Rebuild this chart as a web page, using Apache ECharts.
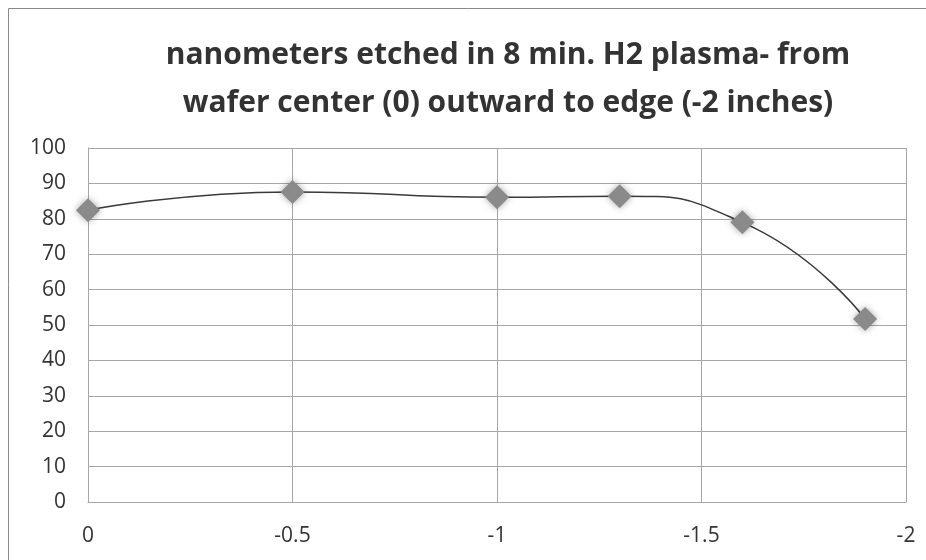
<!DOCTYPE html>
<html><head><meta charset="utf-8">
<script src="https://cdn.jsdelivr.net/npm/echarts@6/dist/echarts.min.js"></script>
<style>html,body{margin:0;padding:0;background:#fff}#c{width:926px;height:560px}</style>
</head><body><div id="c"></div>
<script>
const titleLines = ['nanometers etched in 8 min. H2 plasma- from', 'wafer center (0) outward to edge (-2 inches)'];
const positions = [0, -0.5, -1, -1.3, -1.6, -1.9];
const etched = [82.4, 87.6, 86.1, 86.4, 79.0, 51.7];
const yTicks = {min: 0, max: 100, interval: 10};
const xTicks = {min: -2, max: 0, interval: 0.5};

const chart = echarts.init(document.getElementById('c'));
const font = '"Open Sans", Calibri, sans-serif';
chart.setOption({
  animation: false,
  backgroundColor: '#fff',
  title: {
    text: titleLines.join('\n'),
    left: 503, top: 26, textAlign: 'center',
    textStyle: {fontFamily: font, fontWeight: 'bold', fontSize: 30, color: '#333333', lineHeight: 48}
  },
  graphic: [{type: 'rect', shape: {x: 8.5, y: 8.5, width: 940, height: 600}, style: {fill: 'none', stroke: '#8a8a8a', lineWidth: 1}}],
  grid: {left: 88, right: 20, top: 148, bottom: 58},
  xAxis: {
    type: 'value', inverse: true, min: xTicks.min, max: xTicks.max, interval: xTicks.interval,
    axisLine: {show: true, onZero: false, lineStyle: {color: '#a6a6a6'}},
    axisTick: {show: false},
    splitLine: {show: true, lineStyle: {color: '#a6a6a6', width: 1}},
    axisLabel: {fontFamily: font, fontSize: 21, color: '#333333', margin: 24,
      formatter: v => String(v)}
  },
  yAxis: {
    type: 'value', min: yTicks.min, max: yTicks.max, interval: yTicks.interval,
    axisLine: {show: true, lineStyle: {color: '#a6a6a6'}},
    axisTick: {show: false},
    splitLine: {show: true, lineStyle: {color: '#a6a6a6', width: 1}},
    axisLabel: {fontFamily: font, fontSize: 21, color: '#333333', margin: 22}
  },
  series: [{
    type: 'line', smooth: 0.55,
    data: positions.map((x, i) => [x, etched[i]]),
    symbol: 'diamond', symbolSize: 24,
    itemStyle: {color: '#8a8a8a', shadowBlur: 7, shadowColor: 'rgba(0,0,0,0.35)'},
    lineStyle: {color: '#3a3a3a', width: 1.5}
  }]
});
</script></body></html>
